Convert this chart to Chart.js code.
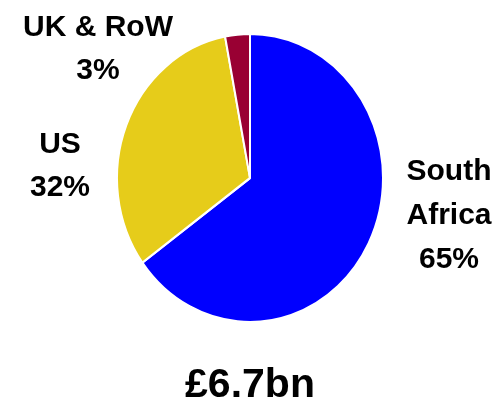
<!DOCTYPE html>
<html>
<head>
<meta charset="utf-8">
<script src="https://cdn.jsdelivr.net/npm/chart.js@4"></script>
<style>
  html, body { margin: 0; padding: 0; background: #fff; }
  #wrap { width: 500px; height: 401px; }
</style>
</head>
<body>
<div id="wrap"><canvas id="revenueChart" width="500" height="401"></canvas></div>
<script>
const regions = ["South Africa", "US", "UK & RoW"];
const shares = [65, 32, 3];
const sliceColors = ["#0000FF", "#E6CC1A", "#990033"];
const totalLabel = "£6.7bn";

// label lines for each slice, drawn beside the pie
const labelLines = [
  ["South", "Africa", "65%"],
  ["US", "32%"],
  ["UK & RoW", "3%"],
];

document.addEventListener("DOMContentLoaded", (event) => {
  const ctx = document.getElementById("revenueChart").getContext("2d");

  // the pie is a bit taller than wide, so stretch it vertically
  const stretchY = 144 / 133;
  const ovalPie = {
    id: "ovalPie",
    beforeDatasetsDraw(chart) {
      const a = chart.chartArea;
      const cx = (a.left + a.right) / 2;
      const cy = (a.top + a.bottom) / 2;
      chart.ctx.save();
      chart.ctx.translate(cx, cy);
      chart.ctx.scale(1, stretchY);
      chart.ctx.translate(-cx, -cy);
    },
    afterDatasetsDraw(chart) {
      chart.ctx.restore();
    },
  };

  const sliceLabels = {
    id: "sliceLabels",
    afterDraw(chart) {
      const c = chart.ctx;
      // text anchors: x centre and first baseline, then line step
      const anchors = [
        { x: 449, y: 180, step: 44 },
        { x: 60, y: 153, step: 43 },
        { x: 98, y: 36, step: 43 },
      ];
      c.save();
      c.fillStyle = "#000";
      c.textAlign = "center";
      c.textBaseline = "alphabetic";
      c.font = "bold 30px 'Liberation Sans', Arial, sans-serif";
      labelLines.forEach((lines, i) => {
        const a = anchors[i];
        lines.forEach((t, j) => {
          c.fillText(t, a.x, a.y + j * a.step);
        });
      });
      c.font = "bold 41px 'Liberation Sans', Arial, sans-serif";
      c.fillText(totalLabel, 250, 397);
      c.restore();
    },
  };

  new Chart(ctx, {
    type: "pie",
    data: {
      labels: regions,
      datasets: [
        {
          data: shares,
          backgroundColor: sliceColors,
          borderColor: "#FFFFFF",
          borderWidth: 2,
          hoverOffset: 0,
        },
      ],
    },
    options: {
      responsive: false,
      animation: false,
      layout: {
        padding: { top: 44, bottom: 89, left: 115, right: 115 },
      },
      plugins: {
        legend: { display: false },
        tooltip: { enabled: false },
      },
    },
    plugins: [ovalPie, sliceLabels],
  });
});
</script>
</body>
</html>
